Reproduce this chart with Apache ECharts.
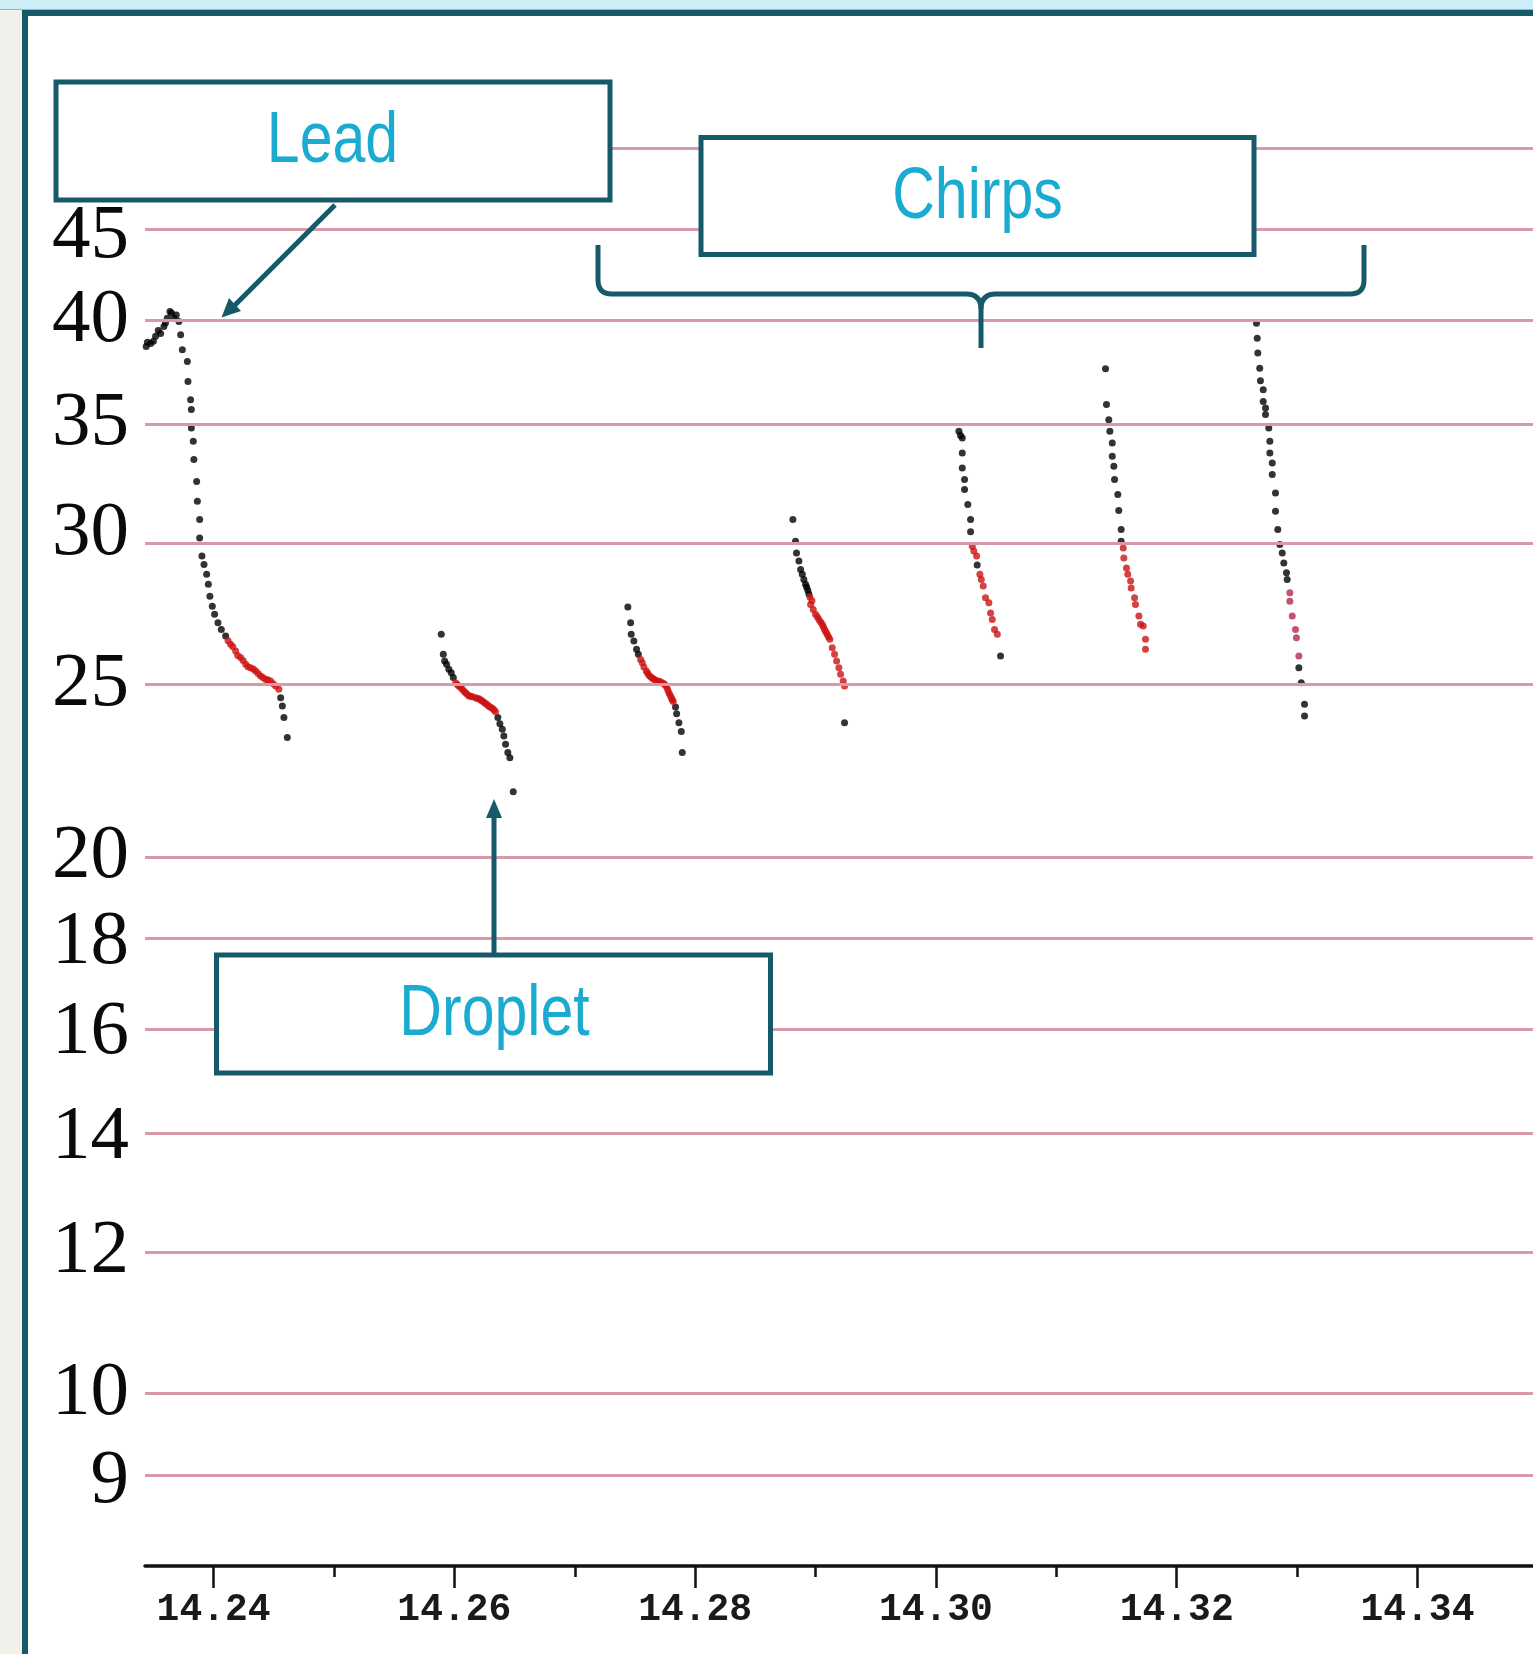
<!DOCTYPE html>
<html><head><meta charset="utf-8">
<script src="https://cdn.jsdelivr.net/npm/echarts@6/dist/echarts.min.js"></script>
<style>html,body{margin:0;padding:0;background:#fff;overflow:hidden}#c{width:1533px;height:1654px}</style>
</head><body><div id="c"></div>
<script>
// ---- axes ----
const X_MIN = 14.2343, X_MAX = 14.3496;
const xMajor = [14.24, 14.26, 14.28, 14.30, 14.32, 14.34];
const xMinor = [14.25, 14.27, 14.29, 14.31, 14.33];
const yTicks = [9, 10, 12, 14, 16, 18, 20, 25, 30, 35, 40, 45];
const yGrid = [9, 10, 12, 14, 16, 18, 20, 25, 30, 35, 40, 45, 50];

// ---- data: [time, value] ----
const leadBlack = [[14.23440,38.69],[14.23450,38.90],[14.23477,38.84],[14.23500,38.95],[14.23518,39.20],[14.23540,39.50],[14.23560,39.35],[14.23587,39.70],[14.23600,39.90],[14.23615,40.13],[14.23637,40.48],[14.23650,40.40],[14.23670,40.13],[14.23690,40.30],[14.23712,39.96],[14.23726,39.28],[14.23740,38.53],[14.23782,37.95],[14.23787,36.98],[14.23809,36.12],[14.23815,35.66],[14.23815,34.82],[14.23831,34.23],[14.23836,33.43],[14.23859,32.50],[14.23865,31.68],[14.23884,30.94],[14.23884,30.21],[14.23903,29.51],[14.23920,29.19],[14.23942,28.82],[14.23956,28.45],[14.23969,28.02],[14.23989,27.66],[14.24008,27.37],[14.24036,27.07],[14.24064,26.84],[14.24100,26.61],
  [14.24557,24.57],[14.24571,24.31],[14.24584,23.95],[14.24612,23.34]];
const leadRed = [[14.24120,26.45],[14.24141,26.33],[14.24160,26.25],[14.24183,26.10],[14.24200,25.95],[14.24224,25.88],[14.24245,25.78],[14.24266,25.66],[14.24285,25.58],[14.24307,25.54],[14.24330,25.50],[14.24349,25.44],[14.24370,25.35],[14.24390,25.27],[14.24410,25.22],[14.24432,25.16],[14.24450,25.15],[14.24473,25.11],[14.24495,25.02],[14.24515,24.95],[14.24542,24.84]];
const dropletBlack = [[14.25891,26.67],[14.25908,25.99],[14.25919,25.77],[14.25935,25.66],[14.25954,25.49],[14.25974,25.38],[14.25991,25.22],
  [14.26361,23.95],[14.26378,23.76],[14.26398,23.59],[14.26411,23.39],[14.26425,23.14],[14.26444,22.89],[14.26461,22.74],[14.26489,21.76]];
const dropletRed = [[14.26010,25.05],[14.26024,25.00],[14.26037,24.95],[14.26052,24.90],[14.26066,24.84],[14.26080,24.78],[14.26093,24.73],[14.26107,24.68],[14.26121,24.63],[14.26135,24.62],[14.26149,24.60],[14.26176,24.57],[14.26190,24.55],[14.26204,24.54],[14.26218,24.50],[14.26232,24.47],[14.26245,24.43],[14.26259,24.39],[14.26273,24.35],[14.26287,24.30],[14.26300,24.27],[14.26315,24.24],[14.26328,24.19],[14.26342,24.13]];
const chirp1Black = [[14.27441,27.63],[14.27464,27.07],[14.27469,26.67],[14.27491,26.44],[14.27513,26.16],[14.27528,25.99],
  [14.27837,24.28],[14.27846,24.07],[14.27865,23.79],[14.27885,23.52],[14.27893,22.89]];
const chirp1Red = [[14.27547,25.82],[14.27561,25.71],[14.27574,25.57],[14.27594,25.44],[14.27605,25.37],[14.27616,25.30],[14.27630,25.25],[14.27644,25.20],[14.27658,25.17],[14.27671,25.13],[14.27690,25.11],[14.27707,25.09],[14.27725,25.05],[14.27740,25.02],[14.27752,24.98],[14.27763,24.92],[14.27772,24.83],[14.27782,24.73],[14.27792,24.65],[14.27802,24.57],[14.27810,24.51],[14.27818,24.45]];
const chirp2Black = [[14.28812,30.94],[14.28834,30.08],[14.28842,29.63],[14.28862,29.32],[14.28876,29.00],[14.28890,28.82],[14.28903,28.63],[14.28917,28.45],[14.28926,28.35],[14.28936,28.23],[14.28945,28.10],
  [14.29241,23.79]];
const chirp2Red = [[14.28953,27.99],[14.28970,27.85],[14.28959,27.72],[14.28981,27.54],[14.29000,27.37],[14.29015,27.28],[14.29028,27.19],[14.29042,27.10],[14.29056,27.02],[14.29065,26.93],[14.29075,26.84],[14.29086,26.75],[14.29097,26.67],[14.29108,26.58],[14.29119,26.50],[14.29139,26.21],[14.29158,25.99],[14.29175,25.77],[14.29194,25.54],[14.29208,25.33],[14.29230,25.11],[14.29241,24.95]];
const chirp3Black = [[14.30191,34.67],[14.30205,34.49],[14.30219,34.37],[14.30219,33.71],[14.30219,33.07],[14.30238,32.58],[14.30238,32.16],[14.30265,31.54],[14.30288,30.94],[14.30288,30.45],
  [14.30343,29.17],[14.30537,25.93]];
const chirp3Red = [[14.30302,29.89],[14.30315,29.70],[14.30338,29.51],[14.30365,28.82],[14.30377,28.63],[14.30393,28.39],[14.30412,27.96],[14.30440,27.78],[14.30454,27.42],[14.30468,27.19],[14.30487,26.84],[14.30510,26.67]];
const chirp4Black = [[14.31409,37.59],[14.31417,35.89],[14.31436,35.20],[14.31445,34.67],[14.31465,34.15],[14.31465,33.57],[14.31478,33.14],[14.31484,32.58],[14.31511,31.95],[14.31519,31.30],[14.31539,30.54],[14.31539,30.08]];
const chirp4Red = [[14.31556,29.82],[14.31561,29.44],[14.31583,29.06],[14.31594,28.82],[14.31617,28.57],[14.31622,28.32],[14.31650,27.96],[14.31658,27.72],[14.31686,27.31],[14.31700,27.02],[14.31722,26.96],[14.31741,26.50],[14.31741,26.16]];
const chirp5Black = [[14.32663,39.87],[14.32669,39.11],[14.32674,38.36],[14.32690,37.62],[14.32696,37.02],[14.32719,36.59],[14.32719,36.04],[14.32738,35.73],[14.32738,35.43],[14.32765,34.82],[14.32774,34.23],[14.32774,33.71],[14.32794,33.28],[14.32794,32.79],[14.32821,32.02],[14.32821,31.27],[14.32840,30.54],[14.32857,29.95],[14.32877,29.63],[14.32890,29.25],[14.32912,28.88],[14.32918,28.63],
  [14.33015,25.54],[14.33035,25.05],[14.33062,24.37],[14.33062,24.00]];
const chirp5Red = [[14.32940,28.14],[14.32940,27.84],[14.32960,27.31],[14.32987,26.84],[14.32995,26.55],[14.33015,25.93]];

const blackData = [].concat(leadBlack, dropletBlack, chirp1Black, chirp2Black, chirp3Black, chirp4Black, chirp5Black);
const redData = [].concat(leadRed, dropletRed, chirp1Red, chirp2Red, chirp3Red, chirp4Red);
const dimRedData = chirp5Red;

const TEAL = '#165a6a';
const CYAN = '#1aabd0';
// small vertical nudges of individual tick labels, as in the source image (style only)
const labelNudge = {45: 7, 30: -10, 9: 7, 14: 5, 18: 4, 16: 3};

function seg(points) {
  return {type: 'polyline', silent: true, z: 110, shape: {points: points}, style: {fill: null, stroke: TEAL, lineWidth: 5}};
}
function curve(x1, y1, cx, cy, x2, y2) {
  return {type: 'bezierCurve', silent: true, z: 110, shape: {x1: x1, y1: y1, cpx1: cx, cpy1: cy, x2: x2, y2: y2}, style: {fill: null, stroke: TEAL, lineWidth: 5}};
}

const chart = echarts.init(document.getElementById('c'), null, {renderer: 'canvas'});
const option = {
  animation: false,
  backgroundColor: '#ffffff',
  grid: {left: 145, right: 0, top: 7, bottom: 88, containLabel: false},
  xAxis: [
    {type: 'value', min: X_MIN, max: X_MAX, splitLine: {show: false},
     axisLine: {show: true, onZero: false, lineStyle: {color: '#111', width: 3.5}},
     axisTick: {show: true, customValues: xMajor, length: 22, lineStyle: {color: '#111', width: 2.5}},
     axisLabel: {show: true, customValues: xMajor, formatter: v => Number(v).toFixed(2),
       fontFamily: 'Liberation Mono', fontWeight: 'bold', fontSize: 38, color: '#1a1a1a', margin: 25}},
    {type: 'value', min: X_MIN, max: X_MAX, position: 'bottom', splitLine: {show: false},
     axisLine: {show: false, onZero: false},
     axisTick: {show: true, customValues: xMinor, length: 11, lineStyle: {color: '#111', width: 2.5}},
     axisLabel: {show: false}}
  ],
  yAxis: {type: 'log', logBase: 10, min: 8, max: 60,
    axisLine: {show: false}, axisTick: {show: false}, axisLabel: {show: false}, splitLine: {show: false}},
  series: [
    {type: 'scatter', data: [], z: 1, silent: true,
     markLine: {silent: true, symbol: 'none', animation: false,
       lineStyle: {type: 'solid', color: '#d89aa6', width: 3},
       label: {position: 'start', distance: 16, fontFamily: 'Liberation Serif', fontSize: 77, color: '#0a0a0a', formatter: '{c}'},
       data: yGrid.map(v => ({yAxis: v, label: {show: yTicks.indexOf(v) >= 0, offset: [0, labelNudge[v] || 0]}}))}},
    {type: 'scatter', data: blackData, z: 3, symbol: 'circle', symbolSize: 7, itemStyle: {color: '#000000'}},
    {type: 'scatter', data: redData, z: 4, symbol: 'circle', symbolSize: 7, itemStyle: {color: '#cc1212'}},
    {type: 'scatter', data: dimRedData, z: 4, symbol: 'circle', symbolSize: 7, itemStyle: {color: '#b02a48'}}
  ],
  graphic: [
    {type: 'rect', silent: true, z: 100, shape: {x: 0, y: 0, width: 1533, height: 10}, style: {fill: '#cdeef7'}},
    {type: 'rect', silent: true, z: 100, shape: {x: 0, y: 9, width: 1533, height: 1.5}, style: {fill: '#62c9e2'}},
    {type: 'rect', silent: true, z: 100, shape: {x: 0, y: 10, width: 22, height: 1644}, style: {fill: '#f2f0ea'}},
    {type: 'rect', silent: true, z: 101, shape: {x: 22, y: 10, width: 1511, height: 6}, style: {fill: TEAL}},
    {type: 'rect', silent: true, z: 101, shape: {x: 22, y: 10, width: 6, height: 1644}, style: {fill: TEAL}},
    // boxes
    {type: 'rect', silent: true, z: 110, shape: {x: 56, y: 82, width: 554, height: 118}, style: {fill: '#fff', stroke: TEAL, lineWidth: 5}},
    {type: 'rect', silent: true, z: 110, shape: {x: 701, y: 137.5, width: 553, height: 117}, style: {fill: '#fff', stroke: TEAL, lineWidth: 5}},
    {type: 'rect', silent: true, z: 110, shape: {x: 216.5, y: 955, width: 554, height: 118}, style: {fill: '#fff', stroke: TEAL, lineWidth: 5}},
    // brace
    seg([[598, 245], [598, 280]]),
    curve(598, 280, 598, 294, 612, 294),
    seg([[612, 294], [966, 294]]),
    curve(966, 294, 981, 294, 981, 309),
    seg([[981, 309], [981, 348]]),
    curve(996, 294, 981, 294, 981, 309),
    seg([[996, 294], [1350, 294]]),
    curve(1350, 294, 1364, 294, 1364, 280),
    seg([[1364, 280], [1364, 245]]),
    // lead arrow
    {type: 'line', silent: true, z: 110, shape: {x1: 335, y1: 205, x2: 233, y2: 307}, style: {stroke: TEAL, lineWidth: 5}},
    {type: 'polygon', silent: true, z: 110, shape: {points: [[221.5, 317.5], [229, 298], [241, 311]]}, style: {fill: TEAL}},
    // droplet arrow
    {type: 'line', silent: true, z: 110, shape: {x1: 494, y1: 957, x2: 494, y2: 814}, style: {stroke: TEAL, lineWidth: 5}},
    {type: 'polygon', silent: true, z: 110, shape: {points: [[494, 799], [486, 818], [502, 818]]}, style: {fill: TEAL}},
    // texts
    {type: 'text', silent: true, z: 120, x: 332.5, y: 142, scaleX: 0.82,
     style: {text: 'Lead', x: 0, y: 0, fill: CYAN, fontFamily: 'Liberation Sans', fontSize: 72, textAlign: 'center', textVerticalAlign: 'middle'}},
    {type: 'text', silent: true, z: 120, x: 977.5, y: 198, scaleX: 0.82,
     style: {text: 'Chirps', x: 0, y: 0, fill: CYAN, fontFamily: 'Liberation Sans', fontSize: 72, textAlign: 'center', textVerticalAlign: 'middle'}},
    {type: 'text', silent: true, z: 120, x: 494.5, y: 1015, scaleX: 0.82,
     style: {text: 'Droplet', x: 0, y: 0, fill: CYAN, fontFamily: 'Liberation Sans', fontSize: 72, textAlign: 'center', textVerticalAlign: 'middle'}}
  ]
};
chart.setOption(option);
</script>
</body></html>
